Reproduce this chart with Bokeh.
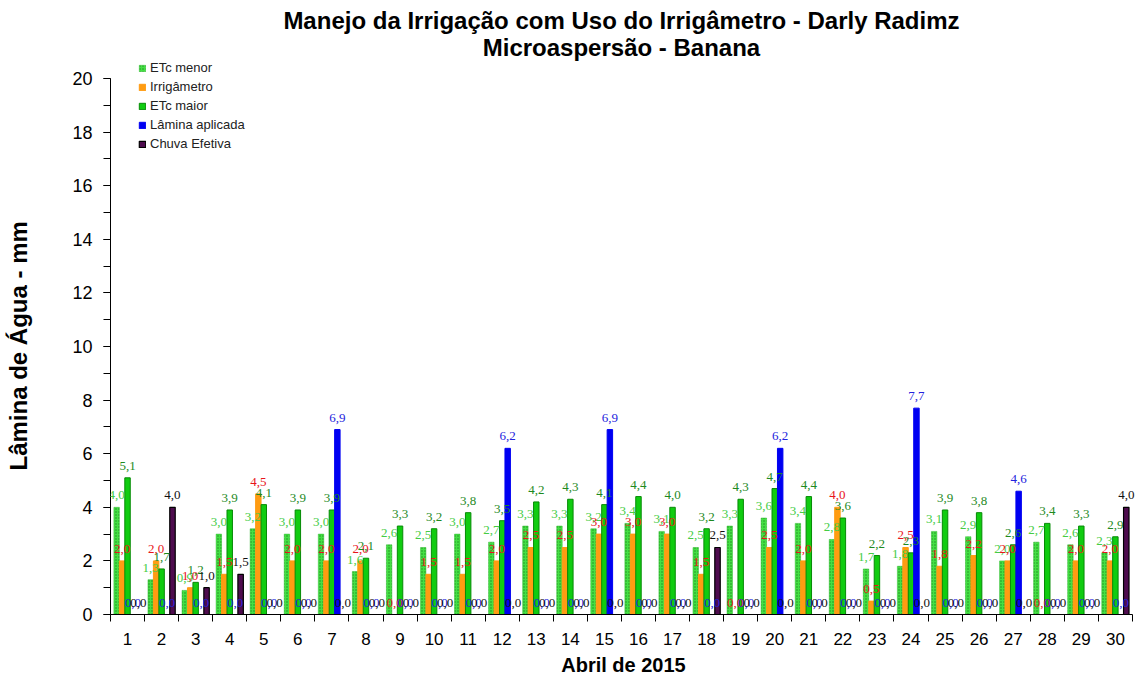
from bokeh.plotting import figure
from bokeh.models import (ColumnDataSource, Legend, LegendItem, LabelSet, Label, FixedTicker,
                          Range1d, Title)
from bokeh.transform import dodge
from bokeh.embed import file_html
from bokeh.resources import INLINE

days = list(range(1, 31))
etc_menor = [4.0, 1.3, 0.9, 3.0, 3.2, 3.0, 3.0, 1.6, 2.6, 2.5, 3.0, 2.7, 3.3, 3.3, 3.2,
             3.4, 3.1, 2.5, 3.3, 3.6, 3.4, 2.8, 1.7, 1.8, 3.1, 2.9, 2.0, 2.7, 2.6, 2.3]
irrigametro = [2.0, 2.0, 1.0, 1.5, 4.5, 2.0, 2.0, 2.0, 0.0, 1.5, 1.5, 2.0, 2.5, 2.5, 3.0,
               3.0, 3.0, 1.5, 0.0, 2.5, 2.0, 4.0, 0.5, 2.5, 1.8, 2.2, 2.0, 0.0, 2.0, 2.0]
etc_maior = [5.1, 1.7, 1.2, 3.9, 4.1, 3.9, 3.9, 2.1, 3.3, 3.2, 3.8, 3.5, 4.2, 4.3, 4.1,
             4.4, 4.0, 3.2, 4.3, 4.7, 4.4, 3.6, 2.2, 2.3, 3.9, 3.8, 2.6, 3.4, 3.3, 2.9]
lamina = [0.0, 0.0, 0.0, 0.0, 0.0, 0.0, 6.9, 0.0, 0.0, 0.0, 0.0, 6.2, 0.0, 0.0, 6.9,
          0.0, 0.0, 0.0, 0.0, 6.2, 0.0, 0.0, 0.0, 7.7, 0.0, 0.0, 4.6, 0.0, 0.0, 0.0]
chuva = [0.0, 4.0, 1.0, 1.5, 0.0, 0.0, 0.0, 0.0, 0.0, 0.0, 0.0, 0.0, 0.0, 0.0, 0.0,
         0.0, 0.0, 2.5, 0.0, 0.0, 0.0, 0.0, 0.0, 0.0, 0.0, 0.0, 0.0, 0.0, 0.0, 4.0]
series_names = ["ETc menor", "Irrigâmetro", "ETc maior", "Lâmina aplicada", "Chuva Efetiva"]
day_labels = [str(d) for d in days]
y_ticks = list(range(0, 21, 2))
title_lines = ["Manejo da Irrigação com Uso do Irrigâmetro - Darly Radimz",
               "Microaspersão - Banana"]
x_title = "Abril de 2015"
y_title = "Lâmina de Água - mm"


def fmt(v):
    return ("%.1f" % v).replace(".", ",")


source = ColumnDataSource(dict(
    day=days,
    menor=etc_menor, irrig=irrigametro, maior=etc_maior, lamina=lamina, chuva=chuva,
    menor_l=[fmt(v) for v in etc_menor], irrig_l=[fmt(v) for v in irrigametro],
    maior_l=[fmt(v) for v in etc_maior], lamina_l=[fmt(v) for v in lamina],
    chuva_l=[fmt(v) for v in chuva],
))

Y_TOP = 22.91
p = figure(width=1141, height=679, x_range=Range1d(0.5, 30.62), y_range=Range1d(0, Y_TOP),
           output_backend="svg", toolbar_location=None, title=None,
           min_border_left=110, min_border_right=5, min_border_top=0, min_border_bottom=65)
p.outline_line_color = None
p.xgrid.visible = False
p.ygrid.visible = False
p.background_fill_color = "white"

w = 0.16
offs = [-0.32, -0.16, 0.0, 0.16, 0.32]
r1 = p.vbar(x=dodge("day", offs[0]), top="menor", width=w, source=source,
            fill_color="#44E044", line_color="#33BB33", line_width=0.5,
            hatch_pattern="dot", hatch_color="#1F8A1F", hatch_scale=3, hatch_weight=1)
r2 = p.vbar(x=dodge("day", offs[1]), top="irrig", width=w, source=source,
            fill_color="#FF9C12", line_color="#FF9C12")
r3 = p.vbar(x=dodge("day", offs[2]), top="maior", width=w, source=source,
            fill_color="#10CC10", line_color="#068A06", line_width=1)
r4 = p.vbar(x=dodge("day", offs[3]), top="lamina", width=w, source=source,
            fill_color="#0000F2", line_color="#0000F2")
r5 = p.vbar(x=dodge("day", offs[4]), top="chuva", width=w, source=source,
            fill_color="#4E0C4E", line_color="#000000", line_width=1.2)

lbl_specs = [("menor", "menor_l", "#44CC44", offs[0]), ("irrig", "irrig_l", "#E8141A", offs[1]),
             ("maior", "maior_l", "#1E8A1E", offs[2]), ("lamina", "lamina_l", "#2222DD", offs[3]),
             ("chuva", "chuva_l", "#111111", offs[4])]
for col, lcol, color, off in lbl_specs:
    ls = LabelSet(x=dodge("day", off), y=col, text=lcol, source=source, text_align="center",
                  text_baseline="middle", y_offset=12, text_font="Liberation Serif",
                  text_font_size="13px", text_color=color)
    p.add_layout(ls)

# chart titles (inside the frame, above the 20 mark)
x_mid = (days[0] + days[-1]) / 2
for txt, yv in zip(title_lines, [22.16, 21.16]):
    p.add_layout(Label(x=x_mid, y=yv, text=txt, text_align="center", text_baseline="middle",
                       text_font="Liberation Sans", text_font_size="24px",
                       text_font_style="bold", text_color="black"))

# axes
p.xaxis.ticker = FixedTicker(ticks=days, minor_ticks=[d - 0.5 for d in days] + [30.5])
p.xaxis.major_label_overrides = {d: s for d, s in zip(days, day_labels)}
p.xaxis.bounds = (0.5, 30.5)
p.xaxis.major_tick_out = 0
p.xaxis.major_tick_in = 0
p.xaxis.minor_tick_out = 7
p.xaxis.minor_tick_in = 0
p.xaxis.major_label_text_font = "Liberation Sans"
p.xaxis.major_label_text_font_size = "17px"
p.xaxis.major_label_text_color = "black"
p.xaxis.major_label_standoff = 11
p.xaxis.axis_label = x_title
p.xaxis.axis_label_text_font = "Liberation Sans"
p.xaxis.axis_label_text_font_size = "20px"
p.xaxis.axis_label_text_font_style = "bold"
p.xaxis.axis_label_text_color = "black"
p.xaxis.axis_label_standoff = 6
p.xaxis.axis_line_color = "black"

p.yaxis.ticker = FixedTicker(ticks=y_ticks, minor_ticks=list(range(0, 21)))
p.yaxis.bounds = (0, 20)
p.yaxis.major_tick_out = 7
p.yaxis.major_tick_in = 0
p.yaxis.minor_tick_out = 7
p.yaxis.minor_tick_in = 0
p.yaxis.major_label_text_font = "Liberation Sans"
p.yaxis.major_label_text_font_size = "18px"
p.yaxis.major_label_text_color = "black"
p.yaxis.major_label_standoff = 11
p.yaxis.axis_line_color = "black"

# y-axis title, on the left side, aligned on the 0..20 part of the axis
p.add_layout(Title(text="\u00a0", text_font_size="10px", standoff=24), "left")
p.add_layout(Title(text=y_title, align="left", offset=144, standoff=2,
                   text_font="Liberation Sans", text_font_size="24px",
                   text_font_style="bold", text_color="black"), "left")

legend = Legend(items=[LegendItem(label=n, renderers=[r]) for n, r in
                       zip(series_names, [r1, r2, r3, r4, r5])],
                location=(28, 461), orientation="vertical", glyph_width=8, glyph_height=8,
                label_height=19, spacing=0, padding=0, margin=0, label_standoff=4,
                label_text_font="Liberation Sans", label_text_font_size="13px",
                label_text_color="#222222", border_line_color=None, background_fill_alpha=0)
p.add_layout(legend)

open("out.html", "w").write(file_html(p, INLINE))
